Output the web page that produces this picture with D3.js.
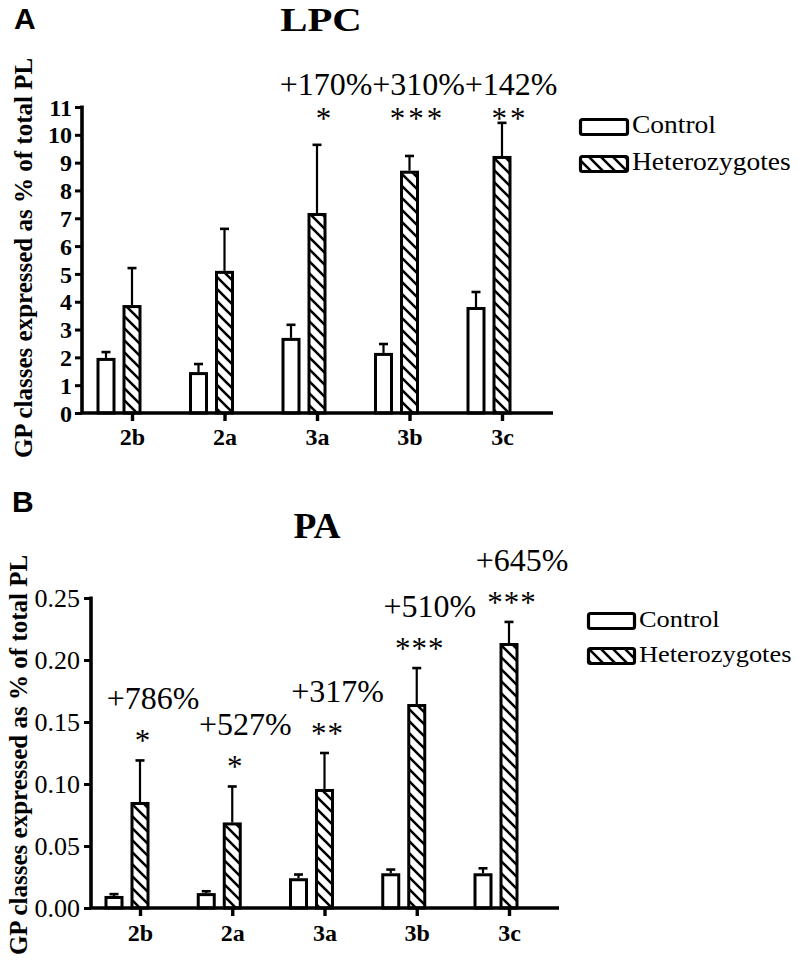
<!DOCTYPE html>
<html>
<head>
<meta charset="utf-8">
<script src="https://cdn.jsdelivr.net/npm/d3@7"></script>
<style>
  html, body { margin: 0; padding: 0; background: #fff; }
  svg { display: block; }
</style>
</head>
<body>
<script>
// ---------- data ----------
const categories = ["2b", "2a", "3a", "3b", "3c"];
const seriesNames = ["Control", "Heterozygotes"];

const lpcControl     = [1.98, 1.47, 2.70, 2.16, 3.81];
const lpcControlErr  = [0.21, 0.29, 0.47, 0.32, 0.54];
const lpcHetero      = [3.88, 5.11, 7.19, 8.71, 9.24];
const lpcHeteroErr   = [1.33, 1.51, 2.45, 0.53, 1.19];
const lpcChange      = ["", "", "+170%", "+310%", "+142%"];
const lpcStars       = ["", "", "*", "***", "**"];
const lpcTicks       = [0, 1, 2, 3, 4, 5, 6, 7, 8, 9, 10, 11];

const paControl      = [0.0097, 0.0120, 0.0240, 0.0280, 0.0280];
const paControlErr   = [0.0015, 0.0015, 0.0030, 0.0030, 0.0040];
const paHetero       = [0.0855, 0.0690, 0.0960, 0.1645, 0.2137];
const paHeteroErr    = [0.0335, 0.0290, 0.0290, 0.0290, 0.0170];
const paChange       = ["+786%", "+527%", "+317%", "+510%", "+645%"];
const paStars        = ["*", "*", "**", "***", "***"];
const paTicks        = [0, 0.05, 0.10, 0.15, 0.20, 0.25];

const yTitle = "GP classes expressed as % of total PL";

// ---------- drawing ----------
const W = 797, H = 962;
const svg = d3.select("body").append("svg").attr("width", W).attr("height", H);
const defs = svg.append("defs");
const pat = defs.append("pattern").attr("id", "hatch")
  .attr("patternUnits", "userSpaceOnUse").attr("width", 12).attr("height", 12);
pat.append("rect").attr("width", 12).attr("height", 12).attr("fill", "#fff");
pat.append("path").attr("d", "M-3,-3 L15,15 M-3,9 L3,15 M9,-3 L15,3")
  .attr("stroke", "#000").attr("stroke-width", 2.6);

const SERIF = "'Liberation Serif','Times New Roman',serif";
const SANS = "'Liberation Sans',Arial,sans-serif";

function txt(g, x, y, s, opts) {
  const sx = opts.sx || 1;
  const t = g.append("text")
    .attr("transform", `translate(${x},${y}) scale(${sx},1)` + (opts.rot ? ` rotate(${opts.rot})` : ""))
    .attr("text-anchor", opts.anchor || "middle")
    .attr("font-family", opts.family || SERIF)
    .attr("font-size", opts.size)
    .attr("font-weight", opts.weight || "normal")
    .attr("fill", "#000")
    .text(s);
  if (opts.ls) t.attr("letter-spacing", opts.ls);
  return t;
}

function panel(cfg) {
  const g = svg.append("g");
  const y = d3.scaleLinear().domain([0, cfg.yMax]).range([cfg.y0, cfg.yTop]);
  const x = d3.scalePoint().domain(categories).range([cfg.xFirst, cfg.xLast]);

  // panel letter & title
  txt(g, cfg.letterX, cfg.letterY, cfg.letter, {size: 30, weight: "bold", family: SANS, anchor: "start"});
  txt(g, cfg.titleX, cfg.titleY, cfg.title, {size: cfg.titleSize, weight: "bold", sx: cfg.titleSx});

  // y axis title
  txt(g, cfg.yTitleX, cfg.yTitleY, yTitle, {size: cfg.yTitleSize, weight: "bold", rot: -90});

  // bars
  const bw = 19, sw = 3, off = 26;
  const data = categories.map((c, i) => ({
    c, i,
    vals: [
      {s: 0, v: cfg.control[i], e: cfg.controlErr[i], cx: x(c) - off},
      {s: 1, v: cfg.hetero[i], e: cfg.heteroErr[i], cx: x(c)}
    ]
  }));
  const bars = data.flatMap(d => d.vals);

  // error bars (behind bar)
  g.selectAll(".err").data(bars).join("g").each(function(d) {
    const e = d3.select(this);
    e.append("line").attr("x1", d.cx).attr("x2", d.cx)
      .attr("y1", y(d.v)).attr("y2", y(d.v + d.e))
      .attr("stroke", "#000").attr("stroke-width", 2.2);
    e.append("line").attr("x1", d.cx - 4.5).attr("x2", d.cx + 4.5)
      .attr("y1", y(d.v + d.e)).attr("y2", y(d.v + d.e))
      .attr("stroke", "#000").attr("stroke-width", 2.6);
  });

  g.selectAll(".bar").data(bars).join("rect")
    .attr("x", d => d.cx - bw / 2 + sw / 2)
    .attr("width", bw - sw)
    .attr("y", d => y(d.v) + sw / 2)
    .attr("height", d => Math.max(0, y(0) - y(d.v) - sw / 2))
    .attr("fill", d => d.s === 0 ? "#fff" : "url(#hatch)")
    .attr("stroke", "#000").attr("stroke-width", sw);

  // y axis
  const yAxis = d3.axisLeft(y).tickValues(cfg.ticks).tickSize(7).tickPadding(cfg.tickPad)
    .tickFormat(cfg.tickFmt);
  const ya = g.append("g").attr("transform", `translate(${cfg.axisX},0)`).call(yAxis);
  ya.select(".domain").attr("stroke", "#000").attr("stroke-width", 3.6)
    .attr("d", `M0,${cfg.yTop - 1.5}V${cfg.y0}`);
  ya.selectAll(".tick line").attr("stroke", "#000").attr("stroke-width", 3);
  ya.selectAll(".tick text").attr("font-family", SERIF).attr("font-size", cfg.tickSize)
    .attr("font-weight", cfg.tickWeight).attr("fill", "#000").attr("dy", "0.34em");

  // x axis
  const xAxis = d3.axisBottom(x).tickSize(8).tickPadding(cfg.xPad);
  const xa = g.append("g").attr("transform", `translate(0,${cfg.y0})`).call(xAxis);
  xa.select(".domain").attr("stroke", "#000").attr("stroke-width", 3.6)
    .attr("d", `M${cfg.axisX},0H${cfg.xEnd}`);
  xa.selectAll(".tick line").attr("stroke", "#000").attr("stroke-width", 3.4);
  xa.selectAll(".tick text").attr("font-family", SERIF).attr("font-size", 24)
    .attr("font-weight", "bold").attr("fill", "#000");

  // annotations
  data.forEach(d => {
    const h = d.vals[1];
    const top = y(h.v + h.e);
    const pctY = cfg.fixedRow ? cfg.pctRowY : top - cfg.pctGap;
    const starY = cfg.fixedRow ? cfg.starRowY : top - cfg.starGap;
    if (cfg.change[d.i]) txt(g, x(d.c) + cfg.pctDx, pctY, cfg.change[d.i], {size: 32});
    if (cfg.stars[d.i]) txt(g, x(d.c) + cfg.starDx, starY, cfg.stars[d.i], {size: 31, ls: cfg.starLs});
  });

  // legend
  seriesNames.forEach((n, i) => {
    const ly = cfg.legY + i * cfg.legStep;
    g.append("rect").attr("x", cfg.legX + 1.5).attr("y", ly + 1.5)
      .attr("width", cfg.legW - 3).attr("height", cfg.legH - 3).attr("rx", 2)
      .attr("fill", i === 0 ? "#fff" : "url(#hatch)")
      .attr("stroke", "#000").attr("stroke-width", 3.2);
    txt(g, cfg.legX + cfg.legW + 3, ly + cfg.legH - 3, n, {size: cfg.legSize, anchor: "start", sx: 1.1});
  });
}

panel({
  letter: "A", letterX: 14, letterY: 29,
  title: "LPC", titleX: 321, titleY: 31, titleSize: 34, titleSx: 1.2,
  yTitleX: 32, yTitleY: 258, yTitleSize: 25,
  yMax: 11, y0: 413, yTop: 107, axisX: 82, xEnd: 553, xFirst: 132, xLast: 502,
  ticks: lpcTicks, tickFmt: d3.format("d"), tickSize: 24, tickWeight: "bold", tickPad: 3, xPad: 7,
  control: lpcControl, controlErr: lpcControlErr, hetero: lpcHetero, heteroErr: lpcHeteroErr,
  change: lpcChange, stars: lpcStars,
  fixedRow: true, pctRowY: 95, starRowY: 129, pctDx: 9, starDx: 8, starLs: 3,
  legX: 579, legY: 118, legW: 50, legH: 18, legStep: 37, legSize: 25
});

panel({
  letter: "B", letterX: 12, letterY: 512,
  title: "PA", titleX: 317, titleY: 538, titleSize: 35, titleSx: 1.07,
  yTitleX: 27, yTitleY: 755, yTitleSize: 25,
  yMax: 0.25, y0: 908, yTop: 598, axisX: 91, xEnd: 559, xFirst: 140, xLast: 509,
  ticks: paTicks, tickFmt: d3.format(".2f"), tickSize: 26, tickWeight: "normal", tickPad: 4, xPad: 8,
  control: paControl, controlErr: paControlErr, hetero: paHetero, heteroErr: paHeteroErr,
  change: paChange, stars: paStars,
  fixedRow: false, pctGap: 51, starGap: 9, pctDx: 13, starDx: 3, starLs: 1,
  legX: 587, legY: 612, legW: 49, legH: 18, legStep: 35, legSize: 24
});
</script>
</body>
</html>
